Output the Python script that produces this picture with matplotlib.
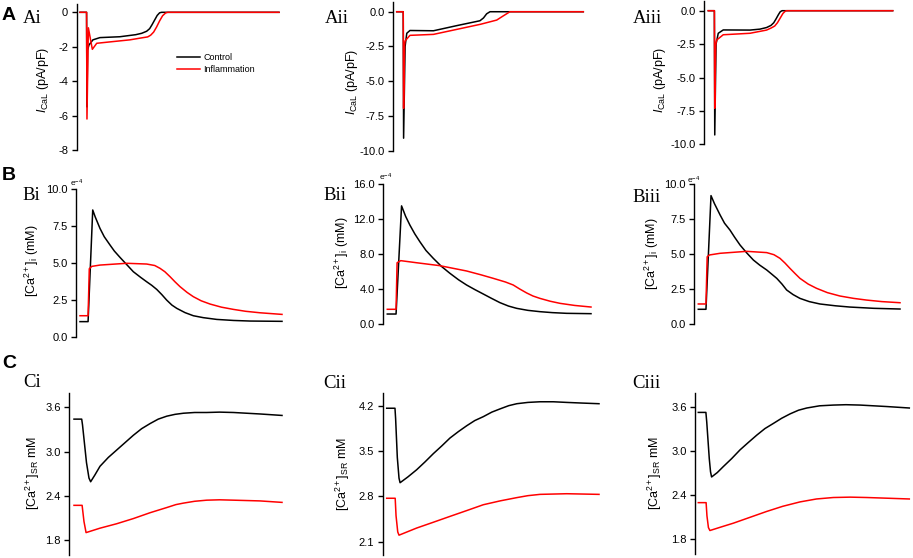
import matplotlib
matplotlib.use("Agg")
import matplotlib.pyplot as plt
from matplotlib.lines import Line2D

plt.rcParams["font.family"] = ["Liberation Sans", "DejaVu Sans"]
plt.rcParams["mathtext.fontset"] = "custom"
plt.rcParams["mathtext.rm"] = "Liberation Sans"
plt.rcParams["mathtext.it"] = "Liberation Sans:italic"
plt.rcParams["axes.unicode_minus"] = False

# ---- data (time in ms) ----
# I_CaL (pA/pF)
ai_t_ctrl = [0, 33, 35, 38, 45, 65, 100, 200, 280, 310, 335, 350, 362, 375, 388, 400, 410, 1000]
ai_ctrl = [0, 0, -5.5, -2.2, -1.9, -1.6, -1.47, -1.42, -1.3, -1.22, -1.1, -0.95, -0.72, -0.45,
           -0.18, -0.03, 0, 0]
ai_t_infl = [0, 33, 35, 42, 62, 84, 150, 251, 302, 340, 355, 370, 385, 400, 415, 430, 440, 1000]
ai_infl = [0, 0, -6.2, -0.9, -2.15, -1.8, -1.72, -1.6, -1.5, -1.43, -1.33, -1.15, -0.85, -0.5,
           -0.2, -0.04, 0, 0]

aii_t_ctrl = [0, 35, 37, 45, 54, 71, 197, 322, 446, 465, 482, 500, 1000]
aii_ctrl = [0, 0, -9.1, -2.5, -1.55, -1.35, -1.37, -1.0, -0.65, -0.45, -0.15, 0, 0]
aii_t_infl = [0, 35, 37, 42, 45, 71, 197, 322, 450, 536, 571, 607, 1000]
aii_infl = [0, 0, -6.95, -2.4, -2.1, -1.7, -1.63, -1.27, -0.9, -0.6, -0.3, 0, 0]

aiii_t_ctrl = [0, 33, 35, 42, 54, 81, 226, 280, 316, 340, 355, 368, 380, 390, 400, 1000]
aiii_ctrl = [0, 0, -9.3, -2.5, -1.69, -1.44, -1.45, -1.38, -1.26, -1.1, -0.9, -0.6, -0.3,
             -0.08, 0, 0]
aiii_t_infl = [0, 33, 35, 40, 45, 81, 226, 316, 340, 360, 375, 390, 405, 418, 425, 1000]
aiii_infl = [0, 0, -7.3, -2.6, -2.2, -1.8, -1.69, -1.45, -1.3, -1.15, -0.9, -0.55, -0.2,
             -0.03, 0, 0]

# [Ca2+]i (x1e-4 mM)
bi_t_ctrl = [0, 40, 63, 75, 99, 120, 149, 170, 198, 230, 264, 300, 330, 355, 380, 405, 429,
             455, 479, 520, 561, 610, 677, 760, 842, 1000]
bi_ctrl = [1.02, 1.02, 8.58, 8.12, 7.33, 6.77, 6.2, 5.8, 5.37, 4.9, 4.4, 4.02, 3.72, 3.48,
           3.2, 2.85, 2.48, 2.14, 1.92, 1.63, 1.42, 1.29, 1.17, 1.1, 1.06, 1.04]
bi_t_infl = [0, 40, 46, 58, 99, 231, 330, 370, 396, 420, 446, 470, 495, 530, 561, 600, 644,
             700, 759, 820, 891, 1000]
bi_infl = [1.42, 1.42, 4.6, 4.76, 4.85, 4.97, 4.92, 4.82, 4.63, 4.4, 4.06, 3.72, 3.39, 3.0,
           2.71, 2.43, 2.21, 2.0, 1.85, 1.72, 1.62, 1.51]

bii_t_ctrl = [0, 43, 70, 90, 111, 135, 160, 190, 226, 265, 307, 350, 389, 430, 471, 510, 553,
              595, 635, 690, 749, 810, 880, 1000]
bii_ctrl = [1.14, 1.14, 13.5, 12.3, 11.3, 10.3, 9.4, 8.4, 7.5, 6.6, 5.8, 5.05, 4.46, 3.93,
            3.43, 2.95, 2.44, 2.05, 1.79, 1.56, 1.41, 1.3, 1.22, 1.18]
bii_t_infl = [0, 43, 48, 66, 144, 257, 389, 460, 520, 580, 618, 650, 684, 715, 749, 800, 848,
              920, 1000]
bii_infl = [1.68, 1.68, 7.0, 7.24, 7.0, 6.67, 6.06, 5.62, 5.22, 4.8, 4.46, 4.0, 3.55, 3.2,
            2.93, 2.6, 2.36, 2.12, 1.94]

biii_t_ctrl = [0, 38, 63, 80, 108, 130, 157, 180, 207, 240, 273, 305, 339, 365, 389, 415, 438,
               470, 504, 550, 603, 680, 752, 870, 1000]
biii_ctrl = [1.05, 1.05, 9.17, 8.6, 7.79, 7.2, 6.71, 6.2, 5.64, 5.08, 4.57, 4.2, 3.86, 3.55,
             3.26, 2.85, 2.43, 2.1, 1.83, 1.6, 1.43, 1.3, 1.21, 1.12, 1.07]
biii_t_infl = [0, 38, 44, 55, 108, 240, 339, 375, 405, 430, 454, 480, 504, 545, 586, 640, 702,
               770, 834, 910, 1000]
biii_infl = [1.43, 1.43, 4.8, 4.93, 5.05, 5.19, 5.1, 4.95, 4.69, 4.35, 3.98, 3.6, 3.26, 2.85,
             2.55, 2.24, 2.0, 1.83, 1.71, 1.6, 1.52]

# [Ca2+]SR (mM)
ci_t_ctrl = [0, 37, 41, 60, 72, 80, 100, 125, 165, 205, 245, 285, 325, 366, 405, 446, 486, 526,
             580, 638, 700, 767, 830, 894, 1000]
ci_ctrl = [3.44, 3.44, 3.36, 2.85, 2.64, 2.59, 2.68, 2.8, 2.92, 3.02, 3.12, 3.22, 3.31, 3.38,
           3.44, 3.48, 3.505, 3.52, 3.53, 3.53, 3.535, 3.53, 3.52, 3.51, 3.49]
ci_t_infl = [0, 39, 48, 58, 125, 205, 285, 366, 446, 490, 526, 580, 638, 700, 767, 894, 1000]
ci_infl = [2.27, 2.27, 2.05, 1.9, 1.96, 2.02, 2.09, 2.17, 2.24, 2.28, 2.3, 2.325, 2.34, 2.345,
           2.34, 2.33, 2.31]

cii_t_ctrl = [0, 39, 42, 50, 58, 63, 100, 141, 180, 220, 260, 298, 338, 377, 415, 455, 495, 534,
              575, 613, 665, 722, 785, 848, 920, 1000]
cii_ctrl = [4.16, 4.16, 4.0, 3.4, 3.08, 3.01, 3.1, 3.21, 3.33, 3.46, 3.58, 3.7, 3.8, 3.89, 3.97,
            4.03, 4.1, 4.15, 4.2, 4.23, 4.25, 4.26, 4.26, 4.25, 4.24, 4.23]
cii_t_infl = [0, 40, 44, 52, 58, 141, 220, 298, 377, 455, 535, 613, 665, 722, 848, 1000]
cii_infl = [2.77, 2.77, 2.5, 2.25, 2.2, 2.31, 2.4, 2.49, 2.58, 2.67, 2.73, 2.78, 2.81, 2.83,
            2.84, 2.83]

ciii_t_ctrl = [0, 36, 40, 52, 58, 63, 90, 118, 158, 198, 237, 277, 316, 356, 395, 435, 475, 514,
               575, 640, 700, 767, 830, 893, 1000]
ciii_ctrl = [3.53, 3.53, 3.4, 2.9, 2.72, 2.65, 2.71, 2.79, 2.9, 3.02, 3.12, 3.22, 3.31, 3.38,
             3.45, 3.51, 3.56, 3.59, 3.62, 3.63, 3.635, 3.63, 3.62, 3.61, 3.59]
ciii_t_infl = [0, 37, 41, 48, 55, 110, 166, 245, 324, 400, 482, 560, 640, 720, 798, 900, 1000]
ciii_infl = [2.3, 2.3, 2.12, 1.96, 1.92, 1.97, 2.02, 2.1, 2.18, 2.25, 2.31, 2.35, 2.37, 2.375,
             2.37, 2.36, 2.35]

a_ticks_i = [0, -2, -4, -6, -8]
a_ticklabels_i = ["0", "-2", "-4", "-6", "-8"]
a_ticks = [0, -2.5, -5, -7.5, -10]
a_ticklabels = ["0.0", "-2.5", "-5.0", "-7.5", "-10.0"]
b_ticks = [0, 2.5, 5, 7.5, 10]
b_ticklabels = ["0.0", "2.5", "5.0", "7.5", "10.0"]
bii_ticks = [0, 4, 8, 12, 16]
bii_ticklabels = ["0.0", "4.0", "8.0", "12.0", "16.0"]
c_ticks = [1.8, 2.4, 3.0, 3.6]
c_ticklabels = ["1.8", "2.4", "3.0", "3.6"]
cii_ticks = [2.1, 2.8, 3.5, 4.2]
cii_ticklabels = ["2.1", "2.8", "3.5", "4.2"]

W, H = 913, 558
fig = plt.figure(figsize=(W / 100, H / 100), dpi=100)

RED = "#ff0000"


def panel(L, S, E, top, bot, ylim, ticks, labels, series):
    # L: spine x, S/E: x pixels of trace start/end, top/bot: y pixels of ylim
    R = E + 6
    ax = fig.add_axes([L / W, 1 - bot / H, (R - L) / W, (bot - top) / H])
    ax.set_xlim((L - S) / (E - S) * 1000, (R - S) / (E - S) * 1000)
    ax.set_ylim(*ylim)
    for side in ["top", "right", "bottom"]:
        ax.spines[side].set_visible(False)
    ax.spines["left"].set_linewidth(1.0)
    ax.set_xticks([])
    ax.set_yticks(ticks)
    ax.set_yticklabels(labels)
    ax.tick_params(axis="y", direction="out", length=3.5, width=1.0,
                   labelsize=8, pad=2.5)
    ax.patch.set_visible(False)
    (tc, vc), (ti, vi) = series
    ax.plot(tc, vc, color="black", lw=1.1, clip_on=False)
    ax.plot(ti, vi, color=RED, lw=1.1, clip_on=False)
    return ax


panel(76.5, 80, 279, 3.7, 150, (-8, 0.5), a_ticks_i, a_ticklabels_i,
      [(ai_t_ctrl, ai_ctrl), (ai_t_infl, ai_infl)])
panel(393.3, 396.7, 583.3, 2, 150.7, (-10, 0.7), a_ticks, a_ticklabels,
      [(aii_t_ctrl, aii_ctrl), (aii_t_infl, aii_infl)])
panel(704, 708.3, 892.7, 1.35, 144.3, (-10, 0.7), a_ticks, a_ticklabels,
      [(aiii_t_ctrl, aiii_ctrl), (aiii_t_infl, aiii_infl)])

panel(76, 80, 282, 189, 336.7, (0, 10), b_ticks, b_ticklabels,
      [(bi_t_ctrl, bi_ctrl), (bi_t_infl, bi_infl)])
panel(383.3, 387.3, 591, 184, 324, (0, 16), bii_ticks, bii_ticklabels,
      [(bii_t_ctrl, bii_ctrl), (bii_t_infl, bii_infl)])
panel(694.3, 698.3, 900, 184, 324, (0, 10), b_ticks, b_ticklabels,
      [(biii_t_ctrl, biii_ctrl), (biii_t_infl, biii_infl)])

panel(69.3, 74, 282, 392.6, 554.7, (1.6, 3.8), c_ticks, c_ticklabels,
      [(ci_t_ctrl, ci_ctrl), (ci_t_infl, ci_infl)])
panel(382.7, 386.7, 599, 392.7, 554.6, (1.9, 4.4), cii_ticks, cii_ticklabels,
      [(cii_t_ctrl, cii_ctrl), (cii_t_infl, cii_infl)])
panel(695, 698.3, 909.3, 392.6, 554, (1.6, 3.8), c_ticks, c_ticklabels,
      [(ciii_t_ctrl, ciii_ctrl), (ciii_t_infl, ciii_infl)])


def ftext(x, y, s, **kw):
    fig.text(x / W, 1 - y / H, s, **kw)


# y labels
lab_a = r"$I_{\mathrm{CaL}}$ (pA/pF)"
lab_b = r"[Ca$^{2+}$]$_{\mathrm{i}}$ (mM)"
lab_c = r"[Ca$^{2+}$]$_{\mathrm{SR}}$ mM"
for x, y, s in [(43, 80, lab_a), (352, 82, lab_a), (660, 80, lab_a),
                (32, 261, lab_b), (342, 253, lab_b), (652, 254, lab_b),
                (33, 473, lab_c), (343, 474, lab_c), (655, 473, lab_c)]:
    ftext(x, y, s, rotation=90, ha="center", va="center", fontsize=9)

# exponent markers
for x, y in [(77, 183), (386, 177), (694, 180)]:
    ftext(x, y, r"e$^{-4}$", ha="center", va="center", fontsize=6)

# panel letters
for x, y, s in [(2, 20, "A"), (2, 180, "B"), (2, 368, "C")]:
    ftext(x, y, s, ha="left", va="baseline", fontsize=14, fontweight="bold")
for x, y, s in [(23, 23, "Ai"), (325, 23, "Aii"), (633, 23, "Aiii"),
                (22, 200, "Bi"), (323, 200, "Bii"), (632, 202, "Biii"),
                (23, 387, "Ci"), (323, 388, "Cii"), (632, 388, "Ciii")]:
    ftext(x, y, s, ha="left", va="baseline", fontsize=13.5,
          family="Liberation Serif")

# legend
handles = [Line2D([], [], color="black", lw=1.1),
           Line2D([], [], color=RED, lw=1.1)]
fig.legend(handles, ["Control", "Inflammation"], loc="upper left",
           bbox_to_anchor=(177 / W, 1 - 53.5 / H), frameon=False,
           fontsize=6.5, handlelength=2.55, handletextpad=0.35,
           borderpad=0, borderaxespad=0, labelspacing=0.25)

fig.savefig("out.png", dpi=100)
